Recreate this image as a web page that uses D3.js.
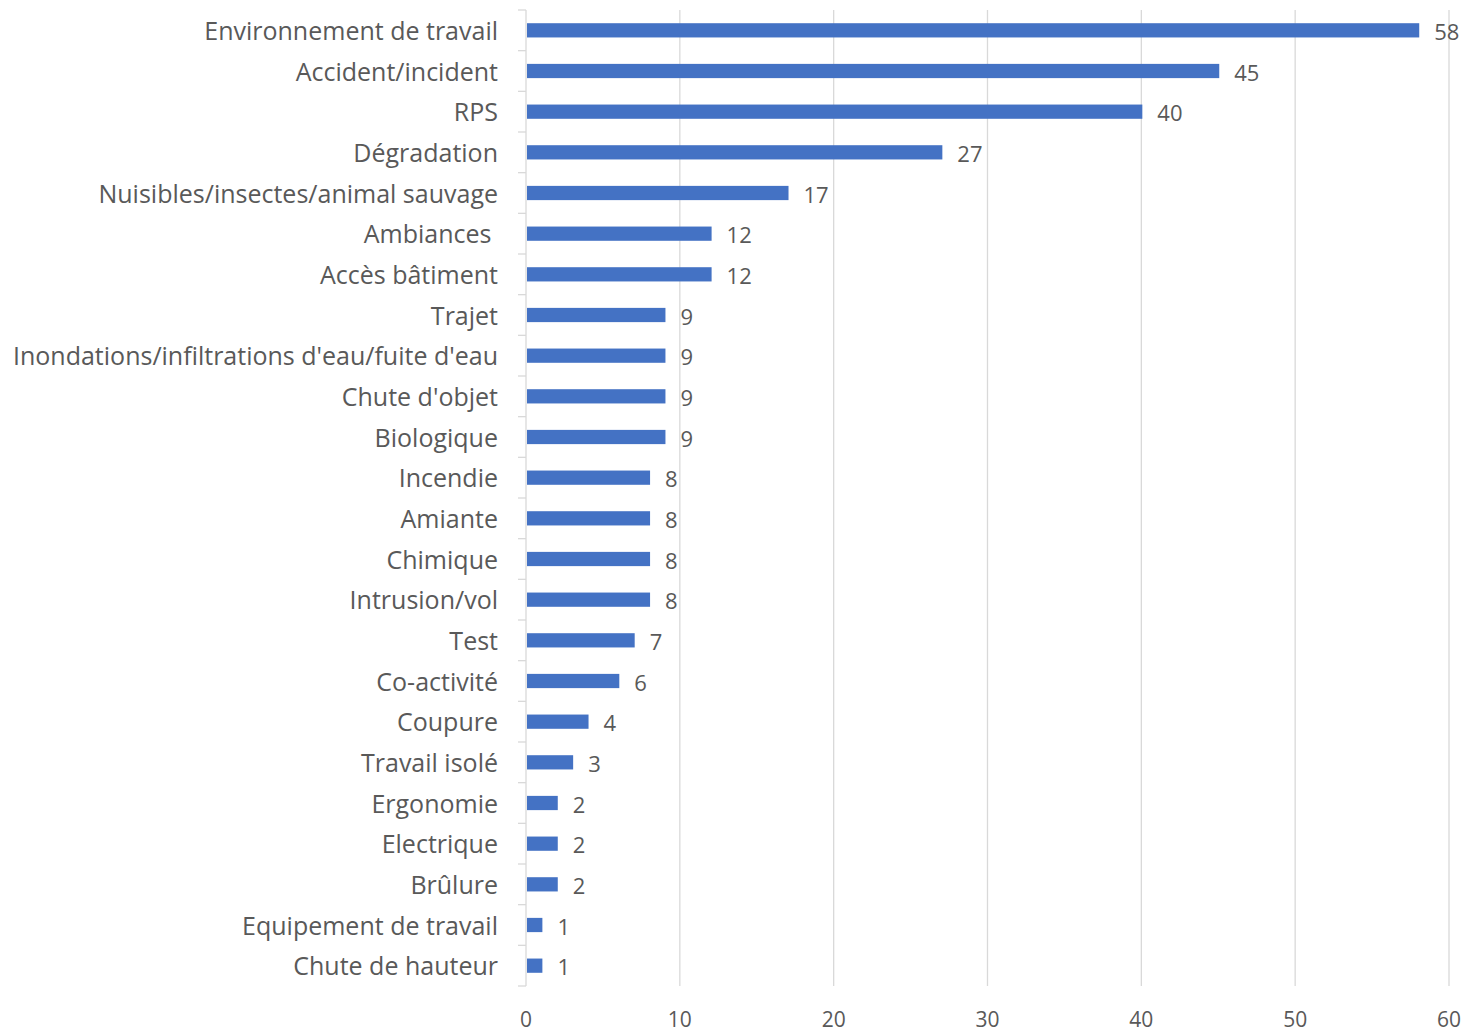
<!DOCTYPE html>
<html>
<head>
<meta charset="utf-8">
<script src="https://cdn.jsdelivr.net/npm/d3@7"></script>
<style>
  body { margin: 0; background: #fff; }
  text { font-family: "Open Sans", "Noto Sans", sans-serif; fill: #595959; white-space: pre; }
</style>
</head>
<body>
<div id="chart"></div>
<script>
var categories = [
  "Environnement de travail", "Accident/incident", "RPS", "Dégradation",
  "Nuisibles/insectes/animal sauvage", "Ambiances ", "Accès bâtiment", "Trajet",
  "Inondations/infiltrations d'eau/fuite d'eau", "Chute d'objet", "Biologique",
  "Incendie", "Amiante", "Chimique", "Intrusion/vol", "Test", "Co-activité",
  "Coupure", "Travail isolé", "Ergonomie", "Electrique", "Brûlure",
  "Equipement de travail", "Chute de hauteur"
];
var values = [58, 45, 40, 27, 17, 12, 12, 9, 9, 9, 9, 8, 8, 8, 8, 7, 6, 4, 3, 2, 2, 2, 1, 1];
var xTicks = [0, 10, 20, 30, 40, 50, 60];

var svgWidth = 1467;
var svgHeight = 1032;
var margin = { top: 10, right: 18, bottom: 46, left: 526 };
var width = svgWidth - margin.left - margin.right;
var height = svgHeight - margin.top - margin.bottom;

var svg = d3.select("#chart").append("svg")
  .attr("width", svgWidth)
  .attr("height", svgHeight);

var g = svg.append("g")
  .attr("transform", `translate(${margin.left}, ${margin.top})`);

var x = d3.scaleLinear().domain([0, 60]).range([0, width]);
var y = d3.scaleBand().domain(categories).range([0, height]).paddingInner(0.65).paddingOuter(0.325);
var yb = d3.scaleBand().domain(categories).range([0, height]);

// vertical gridlines
g.selectAll(".grid")
  .data(xTicks.filter(d => d > 0))
  .enter().append("line")
  .attr("x1", d => x(d)).attr("x2", d => x(d))
  .attr("y1", 0).attr("y2", height)
  .attr("stroke", "#d9d9d9").attr("stroke-width", 1.3);

// x tick labels
g.selectAll(".xlab")
  .data(xTicks)
  .enter().append("text")
  .attr("x", d => x(d))
  .attr("y", height + 41)
  .attr("text-anchor", "middle")
  .style("font-size", "21px")
  .text(d => d);

// y axis line + ticks
g.append("line")
  .attr("x1", 0).attr("x2", 0).attr("y1", 0).attr("y2", height)
  .attr("stroke", "#d9d9d9").attr("stroke-width", 1.3);
var bounds = categories.map(c => yb(c)).concat([height]);
g.selectAll(".ytick")
  .data(bounds)
  .enter().append("line")
  .attr("x1", -8).attr("x2", 0)
  .attr("y1", d => d).attr("y2", d => d)
  .attr("stroke", "#d9d9d9").attr("stroke-width", 1.3);

// category labels
g.selectAll(".ylab")
  .data(categories)
  .enter().append("text")
  .attr("x", -28)
  .attr("y", d => yb(d) + yb.bandwidth() / 2 + 1)
  .attr("dy", "0.35em")
  .attr("text-anchor", "end")
  .style("font-size", "25px")
  .text(d => d);

// bars
g.selectAll(".bar")
  .data(values)
  .enter().append("rect")
  .attr("x", x(0) + 1)
  .attr("y", (d, i) => y(categories[i]))
  .attr("width", d => x(d) - x(0))
  .attr("height", y.bandwidth())
  .attr("fill", "#4472c4");

// value labels
g.selectAll(".val")
  .data(values)
  .enter().append("text")
  .attr("x", d => x(d) + 16)
  .attr("y", (d, i) => yb(categories[i]) + yb.bandwidth() / 2 + 2)
  .attr("dy", "0.35em")
  .style("font-size", "22px")
  .text(d => d);
</script>
</body>
</html>
